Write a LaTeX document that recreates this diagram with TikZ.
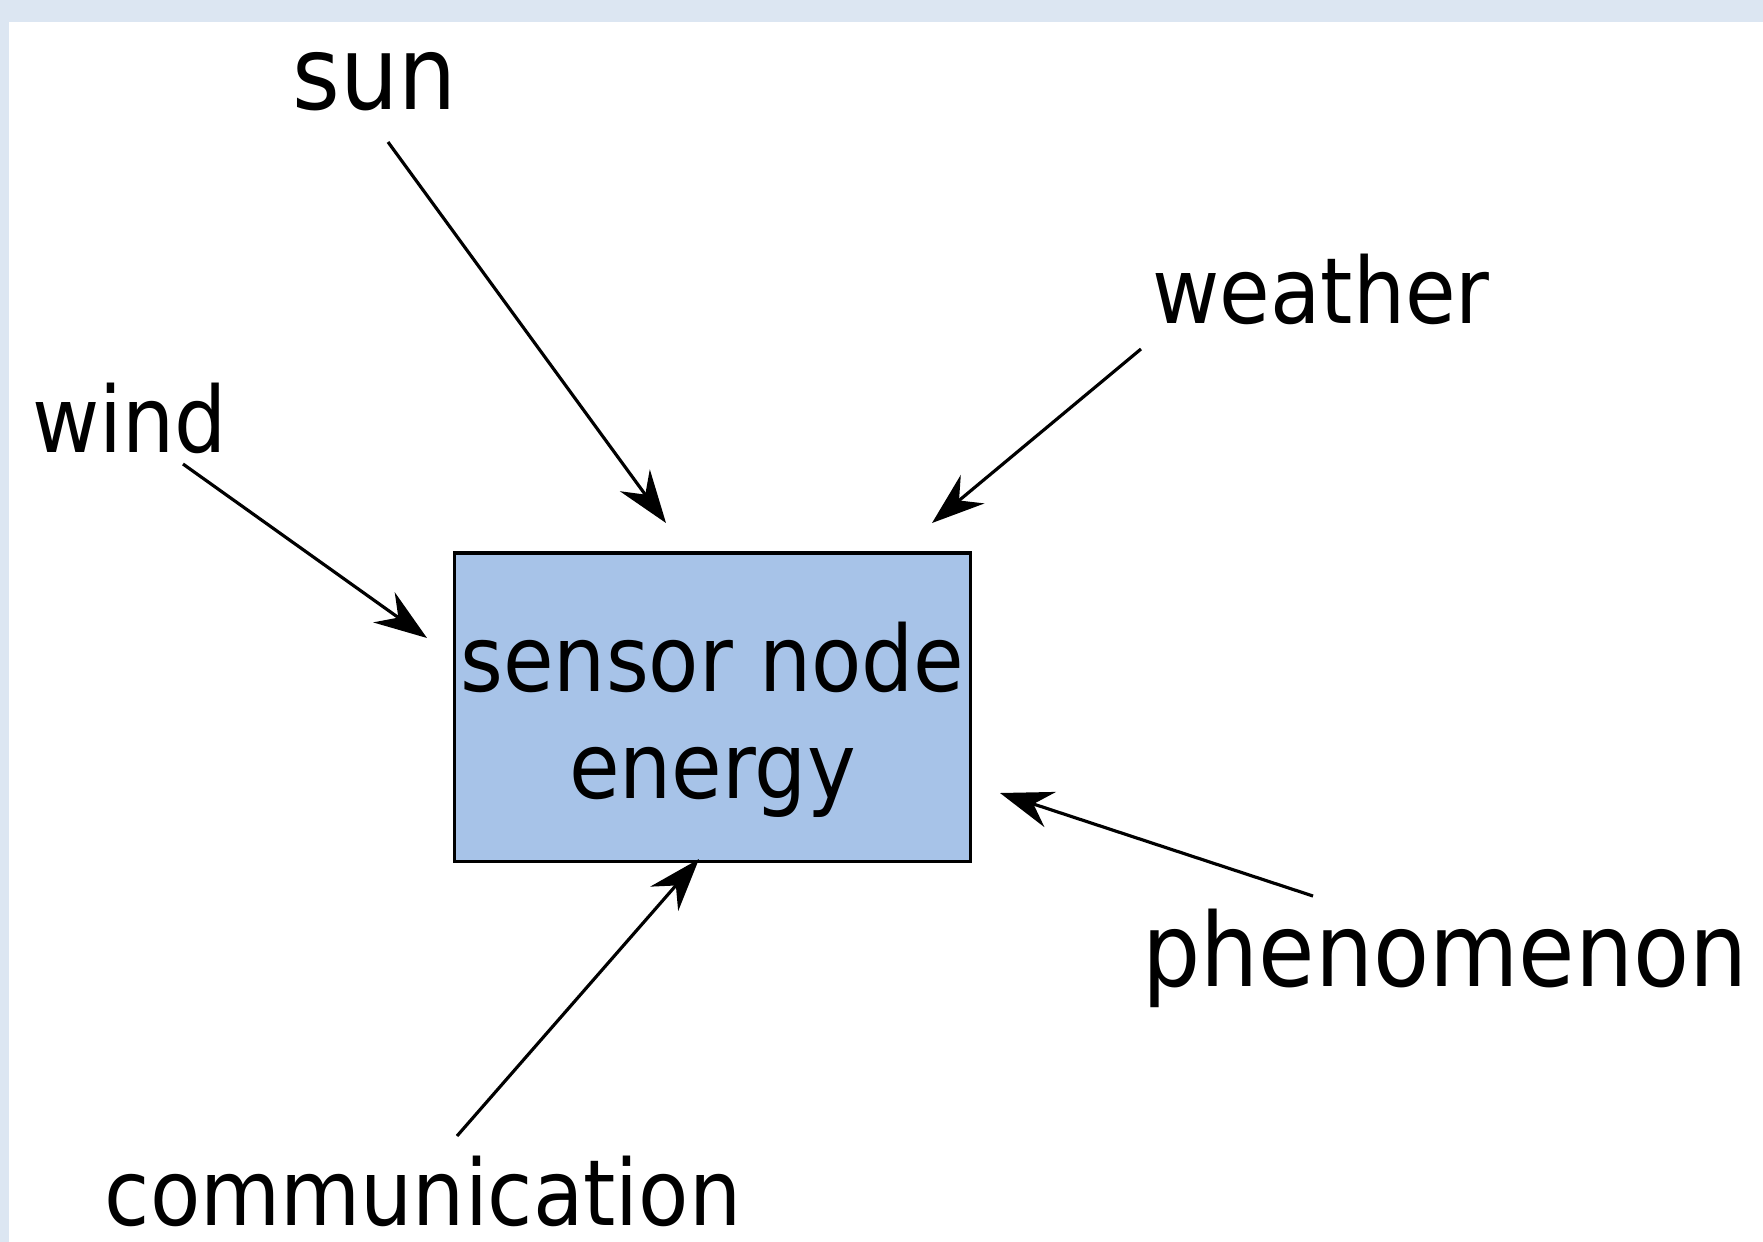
\documentclass[tikz,border=0pt]{standalone}
\usepackage{fontspec}
\setmainfont{DejaVu Sans}[FakeStretch=0.9]
\usetikzlibrary{arrows.meta}
\definecolor{framebg}{RGB}{220,230,242}
\definecolor{nodefill}{RGB}{167,195,232}
\tikzstyle{energymap}=[x=0.01cm, y=-0.01cm, line width=0.9pt]
\tikzstyle{src}=[inner sep=0pt, anchor=base, font=\fontsize{26}{30}\selectfont]
\tikzstyle{bigsrc}=[src, font=\fontsize{29}{33}\selectfont]
\tikzstyle{sensor}=[rectangle, draw, fill=nodefill, inner sep=0pt, minimum width=5.15cm, minimum height=3.08cm, align=center, font=\fontsize{26}{30.4}\selectfont]
\tikzstyle{edge}=[-{Stealth[length=15pt, width=10.5pt, inset=5pt]}]

\begin{document}
\begin{tikzpicture}[energymap]
	\useasboundingbox (0,0) rectangle (1763,1242);
	\fill[framebg] (0,0) rectangle (1763,1242);
	\fill[white] (9,22) rectangle (1763,1242);
	
	\node[sensor] (node) at (712.5,707) {\rule{0pt}{1.03em}sensor node\\energy};
	
	\node[bigsrc] (sun) at (375,109) {sun};
	\node[src] (weather) at (1321,323) {weather};
	\node[src] (wind) at (129.5,452) {wind};
	\node[bigsrc] (phen) at (1445,986) {phenomenon};
	\node[src] (comm) at (423,1225) {communication};
	
	%arrow ends
	\coordinate (sunA) at (388,142);   \coordinate (sunB) at (666,523);
	\coordinate (weatherA) at (1141,349); \coordinate (weatherB) at (932,523);
	\coordinate (windA) at (183,464);  \coordinate (windB) at (427,638);
	\coordinate (phenA) at (1313,896); \coordinate (phenB) at (1000,793);
	\coordinate (commA) at (457,1136); \coordinate (commB) at (699,859);
	
	\draw[edge] (sunA) -- (sunB);
	\draw[edge] (weatherA) -- (weatherB);
	\draw[edge] (windA) -- (windB);
	\draw[edge] (phenA) -- (phenB);
	\draw[edge] (commA) -- (commB);
\end{tikzpicture}
\end{document}
